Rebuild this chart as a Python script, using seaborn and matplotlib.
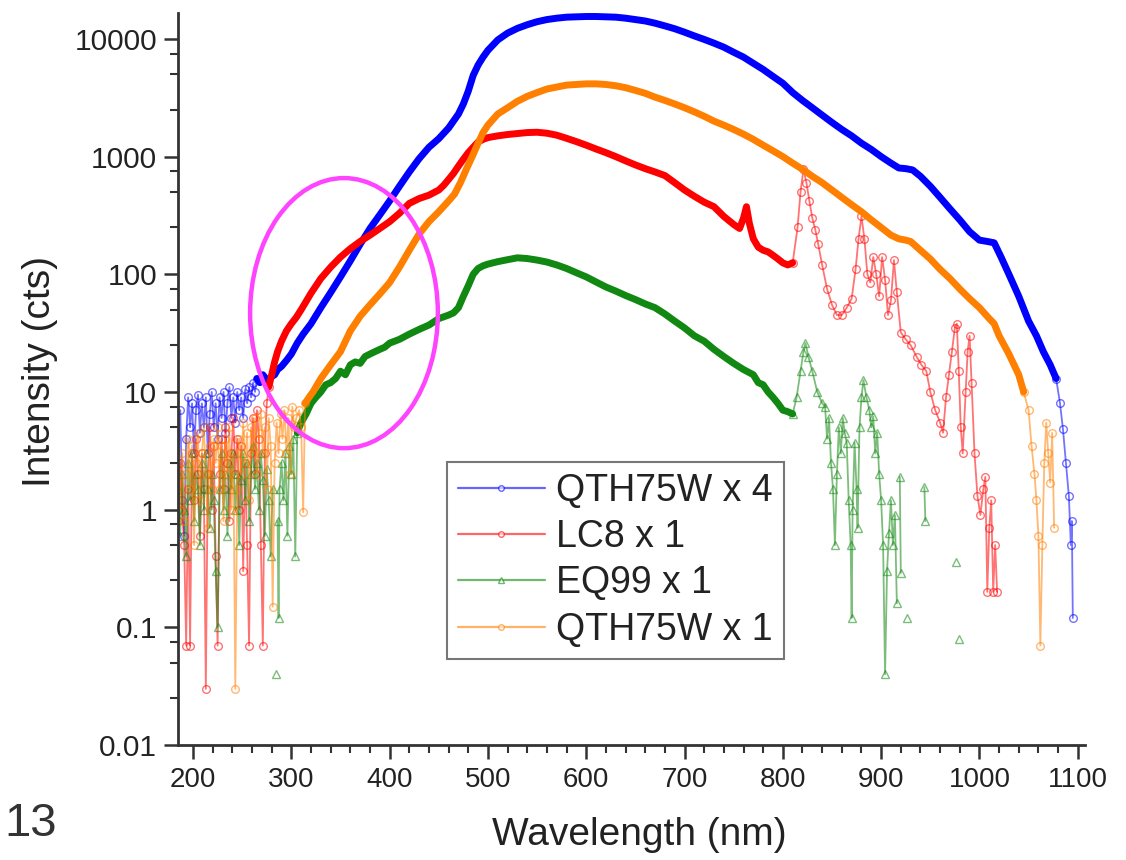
import numpy as np
import pandas as pd
import matplotlib
matplotlib.use("Agg")
import matplotlib.pyplot as plt
import seaborn as sns
from matplotlib.patches import Ellipse
from matplotlib.lines import Line2D
from matplotlib.ticker import FixedLocator, FuncFormatter, MultipleLocator, NullFormatter

nan = np.nan

# ---------------- data ----------------
series_labels = ["QTH75W x 4", "LC8 x 1", "EQ99 x 1", "QTH75W x 1"]

qth4_wl = [185,187,189,191,193,195,197,199,201,203,
           205,207,209,211,213,215,217,219,221,223,
           225,227,229,231,233,235,237,239,241,243,
           245,247,249,251,253,255,257,259,261,263,
           265,268,271,274,277,280,283,286,290,295,
           300,306,312,320,330,340,350,360,370,380,
           390,400,410,420,430,440,450,460,470,475,
           480,485,490,495,500,510,520,530,540,550,
           560,570,580,590,600,610,620,630,640,650,
           660,670,680,690,700,710,720,730,740,750,
           760,770,780,790,800,810,820,830,840,850,
           860,870,880,890,900,910,918,925,932,940,
           950,960,970,980,990,1000,1008,1015,1022,1030,
           1040,1050,1058,1065,1072,1078,1082,1085,1088,1091,
           1093,1094,1095]
qth4_int = [2.5,7,1.2,0.6,4,9,5,8,3,7,
            9.5,4.5,8,5,9,3,6.5,10,5,8,
            4,9,6,10,4.5,8,11,6,9,5.5,
            10,7,9,6,10.5,8,11,9,12,10,
            13,12,14,13,12.5,13.5,14,15.5,16.5,18.5,
            21,26,31,38,52,70,95,130,180,245,
            320,420,560,740,960,1200,1420,1750,2300,2800,
            3600,4900,6000,7000,8000,9800,11200,12300,13200,14000,
            14600,15000,15300,15400,15500,15500,15400,15300,15000,14600,
            14200,13600,12900,12200,11400,10600,9900,9200,8500,7700,
            7000,6200,5500,4800,4200,3500,3000,2600,2250,1950,
            1700,1500,1300,1150,1000,880,800,790,770,680,
            560,450,360,290,230,195,190,185,140,100,
            65,40,30,22,17,13,8,4.8,2.5,1.3,
            0.5,0.8,0.12]

lc8_wl = [185,187,189,191,193,195,197,199,201,203,
          205,207,209,211,213,215,217,219,221,223,
          225,227,229,231,233,235,237,239,241,243,
          245,247,249,251,253,255,257,259,261,263,
          265,267,269,271,273,275,277,280,283,286,
          290,295,300,305,310,320,330,340,350,360,
          370,380,390,400,410,420,430,440,450,455,
          460,465,470,475,480,485,490,495,500,510,
          520,530,540,550,560,570,580,590,600,610,
          620,630,640,650,660,670,680,690,700,710,
          720,730,740,750,756,760,763,766,770,775,
          780,785,790,795,800,805,810,815,818,821,
          824,827,830,833,836,840,845,850,855,860,
          865,870,874,877,880,883,886,889,892,895,
          898,901,904,907,910,913,916,920,925,930,
          936,941,946,950,955,960,963,966,969,972,
          975,977,979,981,983,986,988,990,992,995,
          998,1001,1004,1006,1008,1010,1012,1014,1016,1018]
lc8_int = [0.8,2.5,1,0.5,0.07,1.5,0.07,3,1.2,4,
           2,0.6,3,1.5,0.03,2,5,1,3.5,0.4,
           0.07,2,4,1.5,5,2.5,0.8,3,6,2,
           4,1,3.5,0.3,2.5,0.5,0.07,3,6,2,
           7,4,0.5,0.07,3,8,11,14,18,22,
           27,33,38,43,50,69,92,115,140,165,
           190,215,245,280,330,400,440,470,520,570,
           640,720,830,950,1080,1200,1330,1400,1450,1500,
           1540,1570,1600,1610,1580,1520,1430,1340,1250,1160,
           1080,1000,920,850,790,740,690,600,520,460,
           410,375,310,265,245,300,375,270,200,170,
           160,155,145,135,125,120,125,250,500,780,
           600,420,300,240,180,120,75,55,45,45,
           52,62,110,200,310,200,100,85,140,100,
           65,140,90,45,60,132,70,32,28,25,
           20,17,15,10,7,5.5,4.5,9,14,22,
           35,38,15,5,3,10,22,30,12,3,
           1.3,0.9,1.5,1.9,0.2,0.7,1.2,0.2,0.5,0.2]

eq99_wl = [185,187,189,191,193,195,197,199,201,203,
           205,207,209,211,213,215,217,219,221,223,
           225,227,229,231,233,235,237,239,241,243,
           245,247,249,251,253,255,257,259,261,263,
           265,267,269,271,273,275,277,279,281,283,
           284,285,286,287,288,290,292,294,296,298,
           300,302,304,306,308,310,315,320,325,330,
           335,340,345,350,355,360,365,370,375,380,
           385,390,395,400,410,420,430,440,450,460,
           465,470,475,480,485,490,495,500,510,520,
           530,540,550,560,570,580,590,600,610,620,
           630,640,650,660,670,680,690,700,710,720,
           730,740,750,760,770,775,780,785,790,795,
           800,805,810,814,818,821,823,826,830,835,
           840,843,845,847,849,851,853,855,857,859,
           861,863,865,867,869,870,871,873,875,876,
           878,880,882,885,888,890,892,894,896,898,
           900,902,904,906,908,910,912,914,916,917,
           919,920,921,926,927,944,945,946,976,978,
           979]
eq99_int = [1.5,0.6,2,1,0.4,2.5,1.2,3,0.8,2,
            1.5,0.5,2.5,1,3,1.5,0.7,2,1.2,0.3,
            0.1,1.5,3,1,2,0.6,2.5,1.5,3,1,
            2,0.5,1.8,3,1.2,2.5,0.8,2,3.5,1.5,
            2.5,1,3,1.8,0.6,2.2,1.2,0.4,1.5,nan,
            0.04,nan,0.8,0.12,1.5,2.5,1.2,3,0.6,3.5,
            2,4,0.4,4.5,5,5.5,6.5,8,9,10,
            11.5,12,13,15,14,17,18,17.5,20,21,
            22,23,24,26,28,31,34,37,42,45,
            47,52,65,80,100,112,118,122,128,133,
            138,136,132,127,120,112,103,95,86,78,
            72,66,61,56,52,46,40,35,30,27,
            23,20,17.5,15.5,14,12,11.5,10,9,8,
            7,6.8,6.5,9,15,22,26,20,15,10,
            8,7.5,4,6,2.5,1.5,0.5,2,5,3,
            6,4.5,3.7,1.2,0.5,0.12,1,3.7,1.5,0.7,
            5,9,12.6,9,7,5,6.2,3,4.5,2,
            1.2,0.5,0.04,0.3,0.63,1.2,0.5,0.9,0.16,nan,
            1.9,0.29,nan,0.12,nan,1.55,0.8,nan,0.36,nan,
            0.08]

qth1_wl = [185,187,189,191,193,195,197,199,201,203,
           205,207,209,211,213,215,217,219,221,223,
           225,227,229,231,233,235,237,239,241,243,
           245,247,249,251,253,255,257,259,261,263,
           265,267,269,271,273,275,277,279,281,283,
           285,287,289,291,293,295,297,299,301,303,
           305,308,310,312,314,318,322,330,340,350,
           360,370,380,390,400,410,420,430,440,450,
           460,466,472,478,484,490,495,500,510,520,
           530,540,550,560,570,580,590,600,610,620,
           630,640,650,660,670,680,690,700,710,720,
           730,740,750,760,770,780,790,800,810,820,
           830,840,850,860,870,880,890,900,910,918,
           925,930,940,950,960,970,980,990,1000,1010,
           1015,1020,1030,1040,1045,1050,1053,1056,1058,1060,
           1062,1064,1066,1068,1070,1072,1074,1076]
qth1_int = [2.5,1.0,3,0.8,2,4,1.5,3.5,0.5,2.5,
            4.5,1.2,3,5,2,0.7,3.5,1.5,4,2.5,
            5,1.5,3.5,0.8,4,2,5,1,3,0.03,
            1.5,4,2,5.5,2.5,4.5,1.2,5,3,6,
            2,4.5,6.5,3,5,1.5,6,3.5,0.15,2.5,
            5.5,3,6.5,4,7,3,6,2,7.5,5,
            6,7,5,0.95,8,9,10,13,17,22,
            33,44,55,68,85,115,160,220,280,340,
            420,480,600,780,1000,1300,1600,1850,2300,2600,
            2950,3250,3500,3750,3900,4050,4100,4150,4150,4100,
            4000,3850,3650,3450,3200,3000,2800,2600,2400,2200,
            2000,1850,1700,1550,1400,1250,1120,1000,880,780,
            680,600,520,450,390,340,290,250,215,200,
            195,190,160,135,110,92,75,62,52,42,
            38,30,21,14,10,7,3.5,2,1.2,0.6,
            0.07,0.5,2.5,5.5,3,1.7,4.5,0.7]

y_ticks = [0.01, 0.1, 1, 10, 100, 1000, 10000]

# ---------------- style ----------------
sns.set_theme(style="ticks")
plt.rcParams["font.family"] = ["Liberation Sans", "DejaVu Sans"]

colors = ["#0000ff", "#ff0000", "#118811", "#ff8000"]
markers = ["o", "o", "^", "o"]
core_ranges = [(265, 1078), (277, 812), (306, 812), (314, 1045)]
series = [(qth4_wl, qth4_int), (lc8_wl, lc8_int), (eq99_wl, eq99_int), (qth1_wl, qth1_int)]

fig = plt.figure(figsize=(11.26, 8.6), dpi=100)
ax = fig.add_axes([178 / 1126, 115 / 860, 907 / 1126, 732 / 860])
ax.set_yscale("log")

for (wl, val), c, mk, (lo, hi) in zip(series, colors, markers, core_ranges):
    assert len(wl) == len(val)
    df = pd.DataFrame({"wl": wl, "val": val})
    df["seg"] = df["val"].isna().cumsum()
    df = df.dropna().reset_index(drop=True)
    in_core = np.where((df.wl >= lo) & (df.wl <= hi))[0]
    i0, i1 = in_core[0], in_core[-1]
    core = df.iloc[i0:i1 + 1]
    left = df.iloc[:i0 + 1].copy()
    right = df.iloc[i1:].copy()
    right["seg"] = right["seg"] + 1000
    tails = pd.concat([left, right])
    sns.lineplot(data=tails, x="wl", y="val", units="seg", estimator=None, sort=False,
                 color=c, lw=1.3, alpha=0.55, marker=mk, markersize=5.5,
                 markerfacecolor="none", markeredgecolor=c, markeredgewidth=1.0, ax=ax,
                 legend=False)
    sns.lineplot(data=core, x="wl", y="val", estimator=None, sort=False,
                 color=c, lw=5, solid_capstyle="round", solid_joinstyle="round",
                 ax=ax, legend=False)

ax.set_xlim(184.7, 1107.4)
ax.set_ylim(0.01, 16600)

ax.yaxis.set_major_locator(FixedLocator(y_ticks))
ax.yaxis.set_major_formatter(FuncFormatter(lambda v, p: f"{v:g}"))
minors = [m * 10.0 ** k for k in range(-2, 5) for m in (2.5, 5, 7.5)]
ax.yaxis.set_minor_locator(FixedLocator([m for m in minors if m < 16600]))
ax.yaxis.set_minor_formatter(NullFormatter())
ax.xaxis.set_major_locator(MultipleLocator(100))
ax.xaxis.set_minor_locator(MultipleLocator(20))

for s in ["top", "right"]:
    ax.spines[s].set_visible(False)
for s in ["left", "bottom"]:
    ax.spines[s].set_color("#333333")
    ax.spines[s].set_linewidth(2)

ax.tick_params(axis="both", which="major", direction="out", length=10, width=1.8,
               color="#333333", labelcolor="#222222")
ax.tick_params(axis="y", which="major", labelsize=21.5, pad=5)
ax.tick_params(axis="x", which="major", labelsize=20, pad=6)
ax.tick_params(axis="both", which="minor", direction="out", length=6, width=1.5, color="#333333")

ax.set_xlabel("Wavelength (nm)", fontsize=28, color="#222222")
ax.set_ylabel("Intensity (cts)", fontsize=28, color="#222222")
ax.xaxis.set_label_coords(0.509, -0.098)
ax.yaxis.set_label_coords(-0.132, 0.51)

# magenta ellipse highlight
ax.add_patch(Ellipse((0.183, 0.590), 0.207, 0.369, transform=ax.transAxes,
                     fill=False, edgecolor="#ff44ff", linewidth=3.2, zorder=5))

handles = [Line2D([], [], color=c, lw=1.6, alpha=0.6, marker=mk, markersize=4,
                  markerfacecolor="white", markeredgecolor=c)
           for c, mk in zip(colors, markers)]
leg = ax.legend(handles, series_labels, loc="upper left",
                bbox_to_anchor=(447 / 1126, 1 - 462 / 860), bbox_transform=fig.transFigure,
                fontsize=27, frameon=True, fancybox=False, edgecolor="#555555",
                handlelength=2.3, handletextpad=0.3, labelspacing=0.27, borderpad=0.3,
                borderaxespad=0, numpoints=1)
leg.get_frame().set_linewidth(1.5)
for t in leg.get_texts():
    t.set_color("#222222")

fig.text(0.004, 0.028, "13", fontsize=34, color="#333333", ha="left", va="baseline")

fig.savefig("out.png", dpi=100, facecolor="white")
